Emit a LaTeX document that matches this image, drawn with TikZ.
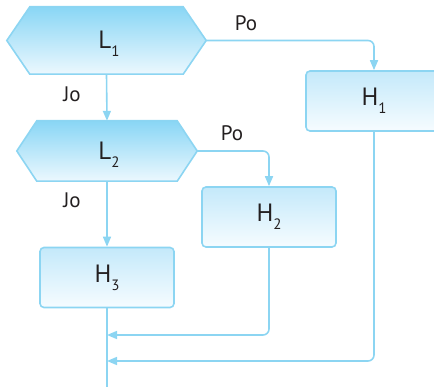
\documentclass[tikz,border=0pt]{standalone}
\usepackage{fontspec}
\setmainfont{PT Sans}
\usetikzlibrary{arrows.meta}
\definecolor{edge}{RGB}{140,213,242}
\definecolor{hextop}{RGB}{137,214,245}
\definecolor{hexbot}{RGB}{236,248,254}
\definecolor{boxtop}{RGB}{196,233,250}
\definecolor{boxbot}{RGB}{246,252,255}
\definecolor{ink}{RGB}{35,31,32}
\newcommand{\lbl}[2]{#1\raisebox{-8pt}{\fontsize{15}{15}\selectfont #2}}
\tikzset{
  anchorbox/.style={shape=rectangle, inner sep=0pt, text=ink, font=\fontsize{25}{25}\selectfont},
  procbox/.style={shape=rectangle, draw=edge, line width=1.6pt, rounded corners=4pt,
    top color=boxtop, bottom color=boxbot, minimum width=134pt, minimum height=60pt,
    inner sep=0pt, text=ink, font=\fontsize{25}{25}\selectfont},
  hexfill/.style={draw=edge, line width=1.6pt, line join=miter, top color=hextop, bottom color=hexbot},
  flow/.style={draw=edge, line width=1.6pt, rounded corners=6pt,
    -{Triangle[length=10pt,width=8pt]}},
  plain/.style={draw=edge, line width=1.6pt},
  tag/.style={text=ink, font=\fontsize{21}{21}\selectfont, inner sep=0pt}
}
\begin{document}
\begin{tikzpicture}[x=1pt,y=-1pt]
\useasboundingbox (0,0) rectangle (434,387);
% decision hexagons
\node[anchorbox, minimum width=199pt, minimum height=67pt] (L1) at (106.5,40.5) {};
\shade[hexfill] (L1.west) -- ([xshift=23pt]L1.north west) -- ([xshift=-23pt]L1.north east)
  -- (L1.east) -- ([xshift=-23pt]L1.south east) -- ([xshift=23pt]L1.south west) -- cycle;
\node[anchorbox] (L1t) at (109,44) {\lbl{L}{1}};
\node[anchorbox, minimum width=180pt, minimum height=60pt] (L2) at (107,151) {};
\shade[hexfill] (L2.west) -- ([xshift=20pt]L2.north west) -- ([xshift=-20pt]L2.north east)
  -- (L2.east) -- ([xshift=-20pt]L2.south east) -- ([xshift=20pt]L2.south west) -- cycle;
\node[anchorbox] (L2t) at (109,155) {\lbl{L}{2}};
% process boxes
\node[procbox, minimum width=136pt] (H1) at (374,101) {\lbl{H}{1}};
\node[procbox] (H2) at (269,217) {\lbl{H}{2}};
\node[procbox] (H3) at (107,277.5) {\lbl{H}{3}};
% merge points and exit
\coordinate (m1) at (107,335);
\coordinate (m2) at (107,361);
\coordinate (out) at (107,387);
% connectors
\draw[flow] (L1.east) -| (H1.north);
\draw[flow] (L1.south) -- (L2.north);
\draw[flow] (L2.east) -| (H2.north);
\draw[flow] (L2.south) -- (H3.north);
\draw[plain] (H3.south) -- (out);
\draw[flow] (H2.south) |- (m1);
\draw[flow] (H1.south) |- (m2);
% branch labels
\node[tag] (po1) at (246,23) {Po};
\node[tag] (jo1) at (72,94) {Jo};
\node[tag] (po2) at (232,133) {Po};
\node[tag] (jo2) at (72,200) {Jo};
\end{tikzpicture}
\end{document}
